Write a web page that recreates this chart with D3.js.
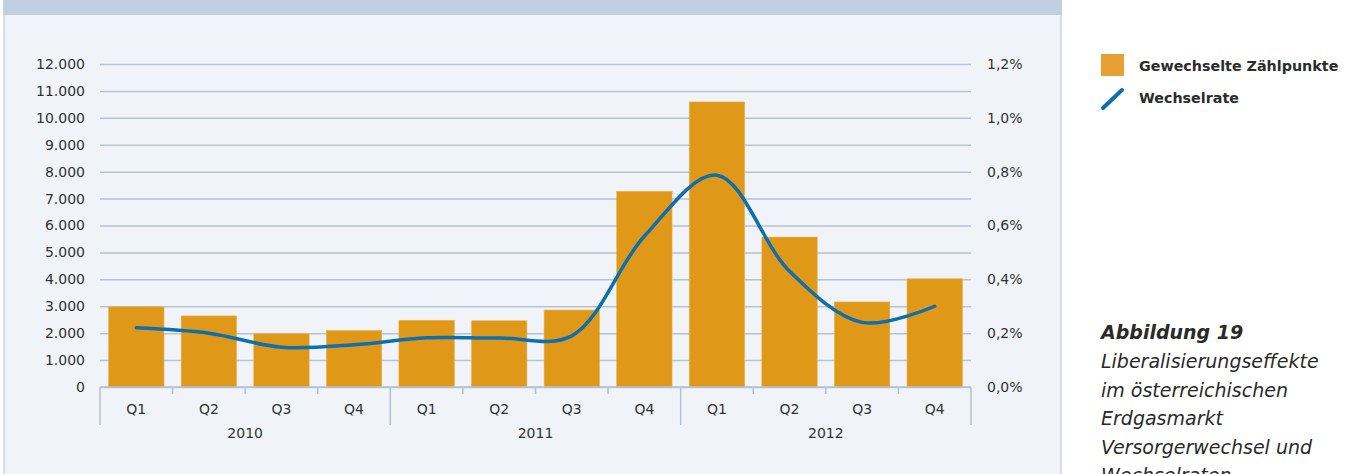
<!DOCTYPE html>
<html>
<head>
<meta charset="utf-8">
<script src="https://cdn.jsdelivr.net/npm/d3@7"></script>
<style>
  body { margin: 0; background: #fff; }
  text { font-family: "DejaVu Sans", sans-serif; fill: #333; }
</style>
</head>
<body>
<div id="chart"></div>
<script>
// data
const years = ["2010", "2011", "2012"];
const quarters = ["Q1", "Q2", "Q3", "Q4"];
const switchedPoints = [2980, 2640, 1980, 2100, 2480, 2460, 2860, 7270, 10590, 5570, 3160, 4020];
const switchRate = [0.0022, 0.0020, 0.00148, 0.00157, 0.00183, 0.00182, 0.0019, 0.0056, 0.00787, 0.0043, 0.0024, 0.003];
const leftTicks = d3.range(0, 12001, 1000);
const rightTicks = [0, 0.002, 0.004, 0.006, 0.008, 0.01, 0.012];
const legendLabels = ["Gewechselte Zählpunkte", "Wechselrate"];
const captionTitle = "Abbildung 19";
const captionLines = ["Liberalisierungseffekte", "im österreichischen", "Erdgasmarkt", "Versorgerwechsel und", "Wechselraten"];

const width = 1355, height = 474;
const plot = { left: 100, right: 971, top: 64, bottom: 387 };
const de = d3.formatLocale({ decimal: ",", thousands: ".", grouping: [3], currency: ["", " €"] });

const cats = [];
years.forEach(y => quarters.forEach(q => cats.push({ year: y, q: q, key: y + q })));
cats.forEach((c, i) => { c.value = switchedPoints[i]; c.rate = switchRate[i]; });

const svg = d3.select("#chart").append("svg")
  .attr("width", width).attr("height", height);

// panel
svg.append("rect").attr("x", 4).attr("y", 0).attr("width", 1057).attr("height", height + 2)
  .attr("fill", "#f0f4f9").attr("stroke", "#c6d3e3").attr("stroke-width", 1.5);
svg.append("rect").attr("x", 3).attr("y", 0).attr("width", 1059).attr("height", 15)
  .attr("fill", "#c0d0e1");

const x = d3.scaleBand().domain(cats.map(d => d.key)).range([plot.left, plot.right])
  .paddingInner(0.237).paddingOuter(0.1185);
const xStep = d3.scaleBand().domain(cats.map(d => d.key)).range([plot.left, plot.right]);
const y = d3.scaleLinear().domain([0, 12000]).range([plot.bottom, plot.top]);
const yR = d3.scaleLinear().domain([0, 0.012]).range([plot.bottom, plot.top]);

// gridlines + left axis
const gL = svg.append("g").attr("transform", `translate(${plot.left},0)`)
  .call(d3.axisLeft(y).tickValues(leftTicks).tickFormat(de.format(",")).tickSize(-(plot.right - plot.left)).tickPadding(15));
gL.select(".domain").remove();
gL.selectAll(".tick line").attr("stroke", "#b6c2d6").attr("stroke-width", 1.5);
gL.selectAll(".tick text").attr("font-size", 14).style("fill", "#333");

// right axis
const gR = svg.append("g").attr("transform", `translate(${plot.right},0)`)
  .call(d3.axisRight(yR).tickValues(rightTicks).tickFormat(de.format(".1%")).tickSize(0).tickPadding(16));
gR.select(".domain").remove();
gR.selectAll(".tick text").attr("font-size", 14).style("fill", "#333");

// bars
svg.append("g").selectAll("rect").data(cats).join("rect")
  .attr("x", d => x(d.key)).attr("width", x.bandwidth())
  .attr("y", d => y(d.value)).attr("height", d => y(0) - y(d.value))
  .attr("fill", "#e09818").attr("stroke", "#eab24e").attr("stroke-width", 0.6);

// x axis
const axisCol = "#b3c0d4";
svg.append("line").attr("x1", plot.left).attr("x2", plot.right)
  .attr("y1", plot.bottom).attr("y2", plot.bottom).attr("stroke", axisCol).attr("stroke-width", 1.5);
const bounds = d3.range(0, cats.length + 1);
svg.append("g").selectAll("line").data(bounds).join("line")
  .attr("x1", i => i < cats.length ? xStep(cats[i].key) : plot.right)
  .attr("x2", i => i < cats.length ? xStep(cats[i].key) : plot.right)
  .attr("y1", plot.bottom)
  .attr("y2", i => i % 4 === 0 ? plot.bottom + 38 : plot.bottom + 7)
  .attr("stroke", axisCol).attr("stroke-width", 1.5);

const gX = svg.append("g").attr("transform", `translate(0,${plot.bottom})`)
  .call(d3.axisBottom(xStep).tickSize(0).tickPadding(17).tickFormat(k => cats.find(c => c.key === k).q));
gX.select(".domain").remove();
gX.selectAll(".tick text").attr("font-size", 14).style("fill", "#333");

svg.append("g").selectAll("text").data(years).join("text")
  .attr("x", yr => {
    const ks = cats.filter(c => c.year === yr);
    return (xStep(ks[0].key) + xStep(ks[ks.length - 1].key) + xStep.bandwidth()) / 2;
  })
  .attr("y", plot.bottom + 51).attr("text-anchor", "middle").attr("font-size", 14)
  .text(d => d);

// rate line
const line = d3.line()
  .x(d => x(d.key) + x.bandwidth() / 2)
  .y(d => yR(d.rate))
  .curve(d3.curveCatmullRom.alpha(0.5));
svg.append("path").datum(cats).attr("d", line)
  .attr("fill", "none").attr("stroke", "#0b6fb0").attr("stroke-width", 3.5)
  .attr("stroke-linecap", "round");

// legend
const lg = svg.append("g");
lg.append("rect").attr("x", 1101).attr("y", 54).attr("width", 23).attr("height", 22).attr("fill", "#e8a033");
lg.append("line").attr("x1", 1103).attr("y1", 108).attr("x2", 1122).attr("y2", 90)
  .attr("stroke", "#0b6fb0").attr("stroke-width", 4).attr("stroke-linecap", "round");
lg.selectAll("text").data(legendLabels).join("text")
  .attr("x", 1139).attr("y", (d, i) => 71 + i * 32)
  .attr("font-size", 14.3).attr("font-weight", "bold").style("fill", "#2c2c2c")
  .text(d => d);

// caption
const cap = svg.append("g").attr("font-style", "italic");
cap.append("text").attr("x", 1101).attr("y", 339).attr("font-size", 19).attr("font-weight", "bold")
  .style("fill", "#2a2a2a").text(captionTitle);
cap.selectAll(".cl").data(captionLines).join("text").attr("class", "cl")
  .attr("x", 1101).attr("y", (d, i) => 368 + i * 28.5).attr("font-size", 19)
  .style("fill", "#2a2a2a").text(d => d);
</script>
</body>
</html>
